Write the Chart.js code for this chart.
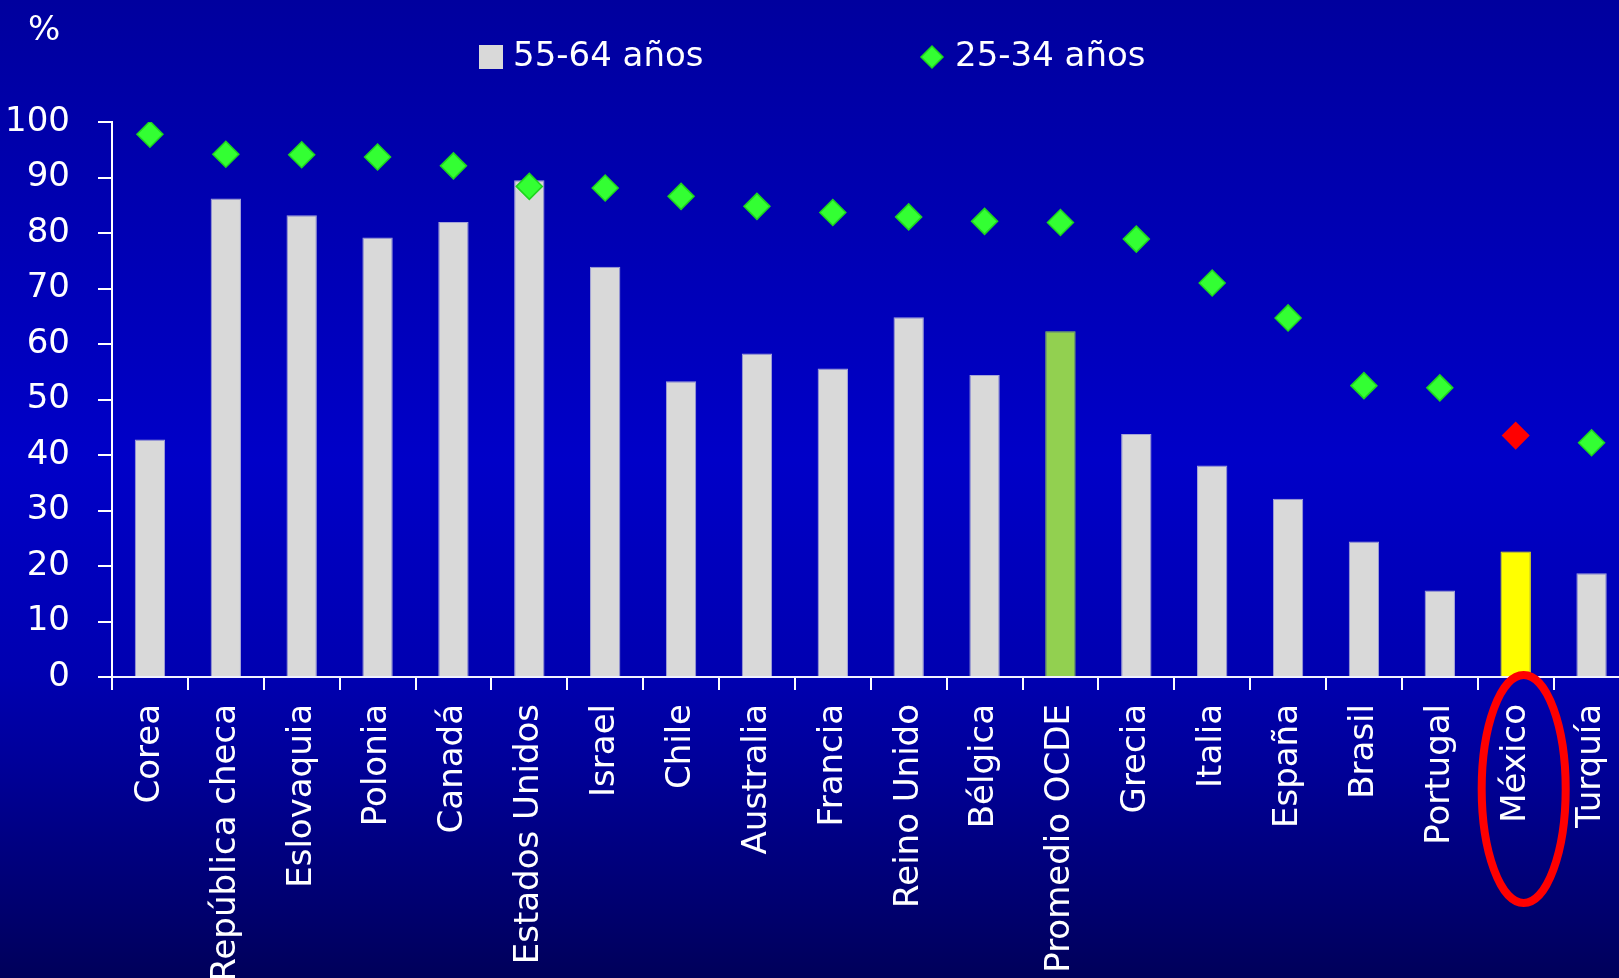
<!DOCTYPE html>
<html>
<head>
<meta charset="utf-8">
<script src="https://cdn.jsdelivr.net/npm/chart.js@4.4.1/dist/chart.umd.min.js"></script>
<style>
    html, body { margin: 0; padding: 0; overflow: hidden; }
    body {
        width: 1619px;
        height: 978px;
        background: linear-gradient(to bottom, #00009e 0px, #0000c8 460px, #0000b0 677px, #00009a 760px, #00005a 978px);
    }
    canvas { display: block; }
</style>
</head>
<body>
<canvas id="barChart" width="1644" height="978"></canvas>
<script>
const categories = ['Corea', 'República checa', 'Eslovaquia', 'Polonia', 'Canadá', 'Estados Unidos', 'Israel', 'Chile',
    'Australia', 'Francia', 'Reino Unido', 'Bélgica', 'Promedio OCDE', 'Grecia', 'Italia', 'España', 'Brasil',
    'Portugal', 'México', 'Turquía'];
const edad5564 = [42.8, 86.2, 83.2, 79.2, 82.0, 89.5, 73.9, 53.3, 58.3, 55.6, 64.8, 54.4, 62.3, 43.8, 38.1, 32.1, 24.4, 15.6, 22.6, 18.7];
const edad2534 = [97.8, 94.2, 94.1, 93.7, 92.1, 88.4, 88.1, 86.6, 84.8, 83.7, 82.9, 82.1, 81.9, 78.9, 71.0, 64.7, 52.5, 52.1, 43.5, 42.2];
const yTicks = [0, 10, 20, 30, 40, 50, 60, 70, 80, 90, 100];
const seriesLabels = ['55-64 años', '25-34 años'];

const FONT = '"DejaVu Sans", sans-serif';
const destacado = 'México';

// colores por barra: promedio en verde, México en amarillo
const barColors = categories.map(c => c === 'Promedio OCDE' ? '#92D050' : (c === destacado ? '#FFFF00' : '#D9D9D9'));
const barBorders = categories.map(c => c === 'Promedio OCDE' ? '#92D050' : (c === destacado ? '#FFFF00' : '#a4a4d8'));
const pointColors = categories.map(c => c === destacado ? '#FF0000' : '#33FF33');
const pointBorders = categories.map(c => c === destacado ? '#FF0000' : '#1fd41f');

// leyenda, "%" y elipse alrededor de México
const extras = {
    id: 'extras',
    afterDraw(chart) {
        const ctx = chart.ctx;
        const xs = chart.scales.x, ys = chart.scales.y;
        ctx.save();
        ctx.fillStyle = '#ffffff';
        ctx.font = '34px ' + FONT;
        ctx.textAlign = 'left';
        ctx.textBaseline = 'middle';
        ctx.fillText('%', 28, 31);

        // leyenda
        ctx.fillStyle = '#D9D9D9';
        ctx.fillRect(479, 45, 24, 24);
        ctx.fillStyle = '#ffffff';
        ctx.fillText(seriesLabels[0], 513, 57);

        ctx.fillStyle = '#33FF33';
        ctx.strokeStyle = '#1fd41f';
        ctx.lineWidth = 1.5;
        Chart.helpers.drawPoint(ctx, { pointStyle: 'rectRot', radius: 11, borderWidth: 1.5 }, 932, 57);
        ctx.fillStyle = '#ffffff';
        ctx.fillText(seriesLabels[1], 955, 57);

        // elipse
        const i = categories.indexOf(destacado);
        ctx.beginPath();
        ctx.ellipse(xs.getPixelForValue(i) + 8, ys.getPixelForValue(0) + 112, 42, 114, 0, 0, Math.PI * 2);
        ctx.strokeStyle = '#FF0000';
        ctx.lineWidth = 8;
        ctx.stroke();
        ctx.restore();
    }
};

const ctx = document.getElementById('barChart');

new Chart(ctx, {
    plugins: [extras],
    data: {
        labels: categories,
        datasets: [
            {
                type: 'bar',
                label: seriesLabels[0],
                data: edad5564,
                backgroundColor: barColors,
                borderColor: barBorders,
                borderWidth: 1,
                barPercentage: 0.4,
                categoryPercentage: 1,
                order: 2
            },
            {
                type: 'line',
                label: seriesLabels[1],
                data: edad2534,
                showLine: false,
                pointStyle: 'rectRot',
                pointRadius: 13,
                pointBackgroundColor: pointColors,
                pointBorderColor: pointBorders,
                pointBorderWidth: 1.5,
                order: 1
            }
        ]
    },
    options: {
        responsive: false,
        animation: false,
        layout: {
            padding: { top: 122, left: 0, right: 1, bottom: 0 }
        },
        plugins: {
            legend: { display: false },
            tooltip: { enabled: false }
        },
        scales: {
            x: {
                offset: true,
                grid: {
                    offset: true,
                    drawOnChartArea: false,
                    drawTicks: true,
                    tickLength: 13,
                    color: '#ffffff',
                    lineWidth: 2
                },
                border: { display: true, color: '#f0f0ff', width: 2 },
                ticks: {
                    color: '#ffffff',
                    font: { family: FONT, size: 34 },
                    maxRotation: 90,
                    minRotation: 90,
                    autoSkip: false,
                    padding: 14
                },
                afterFit: function (s) {
                    s.height = 301;
                    s.paddingLeft = 0;
                    s.paddingRight = 0;
                }
            },
            y: {
                min: 0,
                max: 100,
                grid: {
                    drawOnChartArea: false,
                    tickLength: 14,
                    color: '#ffffff',
                    lineWidth: 2
                },
                border: { display: true, color: '#ffffff', width: 2 },
                ticks: {
                    color: '#ffffff',
                    font: { family: FONT, size: 34 },
                    padding: 28
                },
                afterBuildTicks: function (s) {
                    s.ticks = yTicks.map(v => ({ value: v }));
                },
                afterFit: function (s) {
                    s.width = 112;
                    s.paddingTop = 0;
                    s.paddingBottom = 0;
                }
            }
        }
    }
});
</script>
</body>
</html>
